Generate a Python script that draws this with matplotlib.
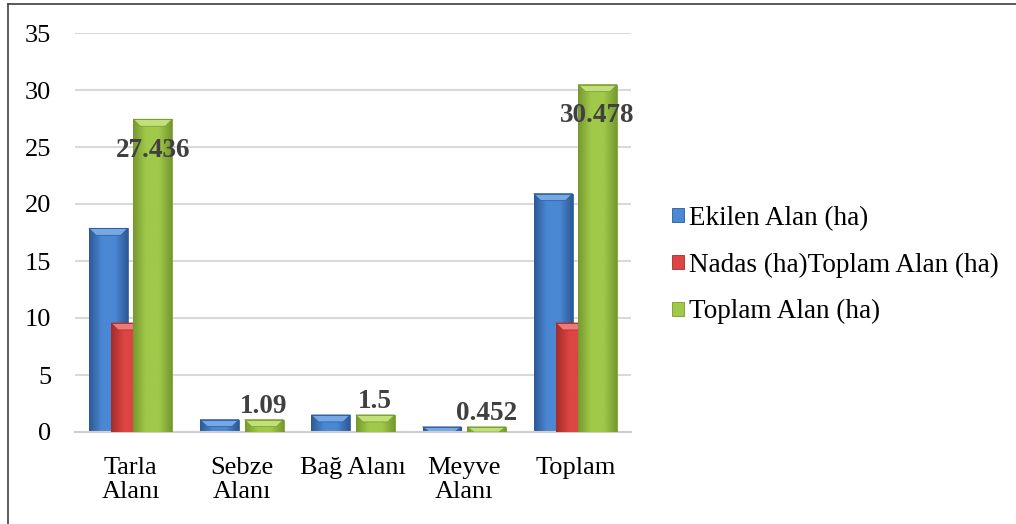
import matplotlib
matplotlib.use("Agg")
import matplotlib.pyplot as plt
import numpy as np
from matplotlib.colors import LinearSegmentedColormap
from matplotlib.patches import Polygon, Rectangle
from matplotlib.lines import Line2D

plt.rcParams['font.family'] = ['Liberation Serif', 'DejaVu Serif']

# --- Data
categories = ["Tarla\nAlanı", "Sebze\nAlanı", "Bağ Alanı", "Meyve\nAlanı", "Toplam"]
series_names = ["Ekilen Alan (ha)", "Nadas (ha)Toplam Alan (ha)", "Toplam Alan (ha)"]
ekilen = [17.87, 1.09, 1.5, 0.452, 20.912]
nadas = [9.566, 0, 0, 0, 9.566]
toplam = [27.436, 1.09, 1.5, 0.452, 30.478]
toplam_labels = ["27.436", "1.09", "1.5", "0.452", "30.478"]

# --- Style: (dark edge, light centre, bevel top)
styles = [
    ("#2c5a97", "#4b88d4", "#77a8e6"),
    ("#a52c2a", "#dc4543", "#ee7a77"),
    ("#76992f", "#a0c94a", "#c2e07a"),
]

fig = plt.figure(figsize=(10.16, 5.24), dpi=100)
ax = fig.add_axes([75 / 1016, 92 / 524, 556 / 1016, 399 / 524])

x = np.arange(len(categories))
width = 0.35
offsets = [-0.2, 0.0, 0.2]
px_y = 35 / 399.0   # data units per pixel (y)
px_x = 5 / 556.0    # data units per pixel (x)

grad = np.linspace(0, 1, 64)
grad = np.vstack([grad, grad])

for i, (vals, off, (dark, light, top)) in enumerate(zip([ekilen, nadas, toplam], offsets, styles)):
    z = 2 + i * 0.5
    cmap = LinearSegmentedColormap.from_list("g", [dark, light, light, dark])
    bars = ax.bar(x + off, vals, width, color=light, zorder=z, linewidth=0)
    for b in bars:
        h = b.get_height()
        if h <= 0:
            continue
        x0 = b.get_x()
        x1 = x0 + b.get_width()
        im = ax.imshow(grad, extent=[x0, x1, 0, h], aspect='auto', cmap=cmap,
                       zorder=z + 0.1, interpolation='bicubic')
        im.set_clip_path(b)
        bev = min(7 * px_y, h)
        d = 7 * px_x
        poly = Polygon([(x0, h), (x1, h), (x1 - d, h - bev), (x0 + d, h - bev)],
                       closed=True, facecolor=top, edgecolor=dark, linewidth=0.5,
                       zorder=z + 0.2)
        ax.add_patch(poly)
        ax.add_patch(Rectangle((x0, 0), x1 - x0, h, fill=False, edgecolor=dark,
                               linewidth=0.6, zorder=z + 0.3))

# data labels on the last series
for xi, v, lab in zip(x, toplam, toplam_labels):
    dy = -31 if v > 5 else 13
    ax.annotate(lab, (xi + offsets[2], v), xytext=(0, dy), textcoords='offset pixels',
                ha='center', va='center', fontsize=19.5, fontweight='bold',
                color='#404040', zorder=5)

ax.set_xlim(-0.5, len(categories) - 0.5)
ax.set_ylim(0, 35)
ax.set_yticks(np.arange(0, 36, 5))
ax.set_xticks(x)
ax.set_xticklabels(categories, fontsize=19, linespacing=1.12)
ax.tick_params(axis='y', labelsize=19, length=0, pad=17)
ax.tick_params(axis='x', length=0, pad=18)
ax.yaxis.grid(True, color='#d9d9d9', linewidth=1.5, zorder=0)
ax.set_axisbelow(True)
for s in ['top', 'right', 'left']:
    ax.spines[s].set_visible(False)
ax.spines['bottom'].set_color('#d0d0d0')
ax.spines['bottom'].set_linewidth(1.5)

handles = [Rectangle((0, 0), 1, 1, facecolor=st[1], edgecolor=st[0], linewidth=0.6)
           for st in styles]
fig.legend(handles, series_names, loc='center left', bbox_to_anchor=(658 / 1016, 0.494),
           frameon=False, fontsize=19.5, handlelength=0.45, handleheight=0.45,
           handletextpad=0.2, labelspacing=0.8, borderpad=0)

# outer chart frame
fig.add_artist(Line2D([8 / 1016, 8 / 1016], [0, 1 - 4 / 524], transform=fig.transFigure,
                      color='#404040', linewidth=1.2))
fig.add_artist(Line2D([8 / 1016, 1], [1 - 4 / 524, 1 - 4 / 524], transform=fig.transFigure,
                      color='#404040', linewidth=1.2))

fig.savefig("out.png", dpi=100)
